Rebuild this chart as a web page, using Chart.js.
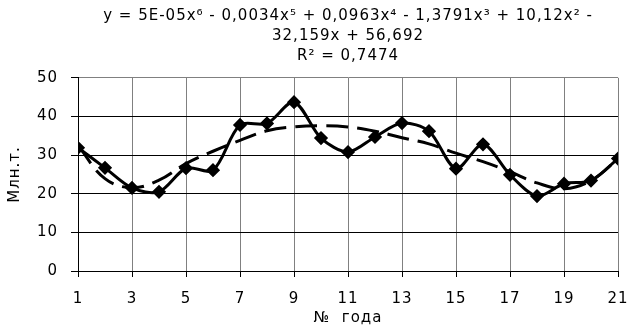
<!DOCTYPE html>
<html>
<head>
<meta charset="utf-8">
<script src="https://cdn.jsdelivr.net/npm/chart.js"></script>
<style>
    html, body { margin: 0; padding: 0; background: #fff; }
    #wrap { width: 627px; height: 328px; }
</style>
</head>
<body>
<div id="wrap"><canvas id="chart" width="627" height="328"></canvas></div>
<script>
// годы и добыча, млн.т.
var years = [1, 2, 3, 4, 5, 6, 7, 8, 9, 10, 11, 12, 13, 14, 15, 16, 17, 18, 19, 20, 21];
var output = [31.9, 26.7, 21.5, 20.5, 26.6, 26.1, 37.8, 38.2, 43.7, 34.4, 30.8, 34.7, 38.3, 36.2, 26.5, 32.8, 24.9, 19.4, 22.6, 23.4, 29.1];
// полиномиальный тренд 6-й степени
var trend = [32.5, 23.9, 21.6, 23.5, 27.8, 31.0, 33.8, 36.3, 37.3, 37.6, 37.3, 36.2, 34.5, 32.9, 30.5, 28.3, 25.7, 22.8, 21.3, 23.4, 29.0];
var titleLines = [
    'y = 5E-05x\u2076 - 0,0034x\u2075 + 0,0963x\u2074 - 1,3791x\u00b3 + 10,12x\u00b2 -',
    '32,159x + 56,692',
    'R\u00b2 = 0,7474'
];

var FONT = "'DejaVu Sans', Verdana, sans-serif";

function toPoints(ys) {
    var pts = [];
    for (var i = 0; i < years.length; i++) {
        pts.push({ x: years[i], y: ys[i] });
    }
    return pts;
}

// разрядка для всех подписей (контекст сбрасывается при resize)
var spacingPlugin = {
    id: 'spacing',
    beforeUpdate: function(chart) { chart.ctx.letterSpacing = '1px'; },
    beforeDraw: function(chart) { chart.ctx.letterSpacing = '1px'; }
};

var ctx = document.getElementById('chart');
new Chart(ctx, {
    type: 'line',
    plugins: [spacingPlugin],
    data: {
        datasets: [{
            label: 'тренд',
            data: toPoints(trend),
            borderColor: '#000',
            borderWidth: 3,
            borderDash: [22, 9],
            pointRadius: 0,
            tension: 0.4,
            fill: false
        }, {
            label: 'добыча',
            data: toPoints(output),
            borderColor: '#000',
            backgroundColor: '#000',
            borderWidth: 3,
            pointStyle: 'rectRot',
            pointRadius: 5,
            pointBackgroundColor: '#000',
            pointBorderColor: '#000',
            tension: 0.3,
            fill: false
        }]
    },
    options: {
        responsive: false,
        animation: false,
        layout: { padding: { left: 0, right: 0, top: 6, bottom: 0 } },
        plugins: {
            legend: { display: false },
            tooltip: { enabled: false },
            title: {
                display: true,
                fullSize: false,
                text: titleLines,
                color: '#000',
                font: { family: FONT, size: 15, weight: 'normal', lineHeight: 1.33 },
                padding: { top: 0, bottom: 12 }
            }
        },
        scales: {
            x: {
                type: 'linear',
                min: 1,
                max: 21,
                afterFit: function(scale) {
                    scale.height = 57;
                    scale.paddingRight = 9;
                },
                ticks: {
                    stepSize: 2,
                    color: '#000',
                    font: { family: FONT, size: 15 },
                    padding: 13,
                    maxRotation: 0
                },
                grid: {
                    color: '#808080',
                    lineWidth: 1,
                    tickLength: 6,
                    tickColor: '#000'
                },
                border: { color: '#000', width: 1 },
                title: {
                    display: true,
                    text: '№  года',
                    color: '#000',
                    font: { family: FONT, size: 15 },
                    padding: { top: 0, bottom: 1 }
                }
            },
            y: {
                min: 0,
                max: 50,
                afterFit: function(scale) { scale.width = 78; },
                ticks: {
                    stepSize: 10,
                    color: '#000',
                    font: { family: FONT, size: 15 },
                    padding: 13
                },
                grid: {
                    color: function(c) { return c.tick && c.tick.value === 50 ? '#808080' : '#000'; },
                    lineWidth: 1,
                    tickLength: 7,
                    tickColor: '#000'
                },
                border: { color: '#000', width: 1 },
                title: {
                    display: true,
                    text: 'Млн.т.',
                    color: '#000',
                    font: { family: FONT, size: 15 },
                    padding: { top: 6, bottom: 0 }
                }
            }
        }
    }
});
</script>
</body>
</html>
